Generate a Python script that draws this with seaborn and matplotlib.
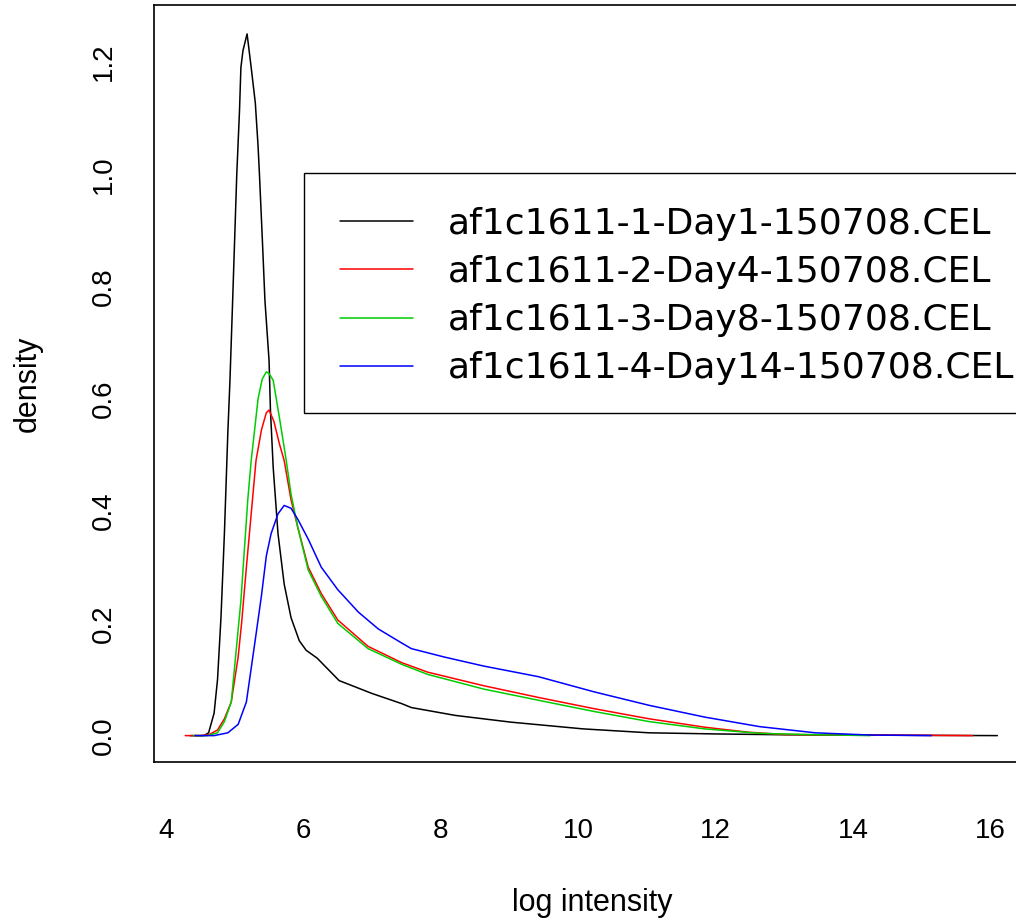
import matplotlib
matplotlib.use("Agg")
import matplotlib.pyplot as plt
from matplotlib.patches import Rectangle
import seaborn as sns
import pandas as pd

# ---- data ----
labels = ["af1c1611-1-Day1-150708.CEL", "af1c1611-2-Day4-150708.CEL",
          "af1c1611-3-Day8-150708.CEL", "af1c1611-4-Day14-150708.CEL"]
colors = ["#000000", "#FF0000", "#00CD00", "#0000FF"]

day1_x = [4.35, 4.55, 4.62, 4.70, 4.75, 4.80, 4.85, 4.90, 4.93, 4.97, 5.03, 5.07, 5.09, 5.12,
          5.18, 5.24, 5.30, 5.34, 5.36, 5.40, 5.44, 5.50, 5.52, 5.56, 5.63, 5.72, 5.82, 5.94,
          6.04, 6.20, 6.52, 7.00, 7.43, 7.57, 8.21, 9.02, 10.07, 11.03, 12.0, 13.0, 14.0, 15.0, 16.1]
day1_y = [0.0, 0.0, 0.005, 0.04, 0.10, 0.21, 0.36, 0.54, 0.63, 0.775, 1.0, 1.114, 1.19, 1.22,
          1.25, 1.19, 1.127, 1.05, 1.0, 0.89, 0.775, 0.668, 0.58, 0.478, 0.36, 0.27, 0.21, 0.169,
          0.152, 0.138, 0.098, 0.075, 0.057, 0.050, 0.036, 0.024, 0.012, 0.005, 0.003, 0.0015,
          0.001, 0.0005, 0.0]

day4_x = [4.28, 4.50, 4.63, 4.75, 4.85, 4.95, 5.05, 5.10, 5.17, 5.24, 5.31, 5.39, 5.46, 5.50,
          5.57, 5.65, 5.72, 5.82, 5.92, 6.07, 6.26, 6.50, 6.94, 7.43, 7.81, 8.62, 9.42, 10.23,
          11.03, 11.84, 12.48, 13.0, 14.0, 15.0, 15.74]
day4_y = [0.0, 0.0, 0.002, 0.01, 0.03, 0.06, 0.14, 0.20, 0.30, 0.395, 0.49, 0.545, 0.575, 0.58,
          0.56, 0.52, 0.49, 0.42, 0.37, 0.30, 0.253, 0.206, 0.159, 0.13, 0.113, 0.089, 0.068,
          0.048, 0.030, 0.015, 0.006, 0.002, 0.001, 0.0005, 0.0]

day8_x = [4.40, 4.60, 4.75, 4.85, 4.95, 5.02, 5.09, 5.14, 5.19, 5.24, 5.34, 5.40, 5.46, 5.50,
          5.56, 5.65, 5.75, 5.82, 5.92, 6.07, 6.26, 6.50, 6.94, 7.43, 7.81, 8.62, 9.42, 10.23,
          11.03, 11.84, 12.65, 13.3, 14.25]
day8_y = [0.0, 0.0, 0.005, 0.025, 0.06, 0.15, 0.24, 0.33, 0.42, 0.49, 0.60, 0.635, 0.648, 0.645,
          0.633, 0.567, 0.49, 0.43, 0.37, 0.295, 0.248, 0.20, 0.155, 0.127, 0.109, 0.083, 0.063,
          0.043, 0.025, 0.012, 0.004, 0.002, 0.0]

day14_x = [4.42, 4.70, 4.90, 5.05, 5.17, 5.24, 5.31, 5.39, 5.46, 5.53, 5.63, 5.72, 5.82, 5.92,
           6.07, 6.26, 6.50, 6.80, 7.09, 7.43, 7.57, 8.05, 8.62, 9.42, 10.23, 11.03, 11.84,
           12.64, 13.45, 14.25, 15.14]
day14_y = [0.0, 0.0, 0.005, 0.02, 0.06, 0.12, 0.18, 0.25, 0.32, 0.36, 0.395, 0.41, 0.405, 0.385,
           0.35, 0.30, 0.26, 0.22, 0.19, 0.165, 0.155, 0.14, 0.124, 0.105, 0.078, 0.054, 0.033,
           0.016, 0.005, 0.001, 0.0]

x_ticks = [4, 6, 8, 10, 12, 14, 16]
y_ticks = [0.0, 0.2, 0.4, 0.6, 0.8, 1.0, 1.2]
y_tick_labels = ["0.0", "0.2", "0.4", "0.6", "0.8", "1.0", "1.2"]

series_x = [day1_x, day4_x, day8_x, day14_x]
series_y = [day1_y, day4_y, day8_y, day14_y]

rows = []
for lab, xs, ys in zip(labels, series_x, series_y):
    for i, (xv, yv) in enumerate(zip(xs, ys)):
        rows.append({"sample": lab, "x": xv, "y": yv, "order": i})
df = pd.DataFrame(rows)

# ---- style ----
sns.set_style("white")
plt.rcParams["font.family"] = ["Liberation Sans", "DejaVu Sans"]
plt.rcParams["text.color"] = "black"
plt.rcParams["axes.labelcolor"] = "black"
plt.rcParams["xtick.color"] = "black"
plt.rcParams["ytick.color"] = "black"

fig = plt.figure(figsize=(10.16, 9.22), dpi=100)
W, H = 1016.0, 922.0
ax = fig.add_axes([153.5 / W, (H - 762) / H, (1031 - 153.5) / W, (762 - 5.5) / H])

sns.lineplot(data=df, x="x", y="y", hue="sample", hue_order=labels,
             palette=dict(zip(labels, colors)), estimator=None, sort=False,
             units="sample", linewidth=1.1, legend=False, ax=ax)

ax.set_xlim(3.818, 16.59)
ax.set_ylim(-0.047, 1.3006)
ax.set_xticks(x_ticks)
ax.set_xticklabels([str(t) for t in x_ticks])
ax.set_yticks(y_ticks)
ax.set_yticklabels(y_tick_labels)

for s in ax.spines.values():
    s.set_visible(True)
    s.set_color("black")
    s.set_linewidth(1.2)

ax.tick_params(axis="both", direction="out", length=12, width=1.0, color="black",
               labelsize=20, labelcolor="black")
ax.tick_params(axis="x", pad=28)
ax.tick_params(axis="y", pad=14.5, labelrotation=90)
for t in ax.get_yticklabels():
    t.set_va("center")

ax.set_xlabel("log intensity", fontsize=22)
ax.set_ylabel("density", fontsize=22)
ax.xaxis.set_label_coords(0.5, -0.167)
ax.yaxis.set_label_coords(-0.126, 0.5)

# legend frame (R style, extends past the right edge)
frame = Rectangle((304 / W, (H - 413) / H), (1045 - 304) / W, (413 - 173) / H,
                  transform=fig.transFigure, facecolor="white", edgecolor="black",
                  linewidth=1.0, zorder=3, clip_on=False)
ax.add_patch(frame)

handles = ax.get_lines()[:4]
leg = ax.legend(handles, labels, loc="upper left",
                bbox_to_anchor=(340 / W, (H - 207) / H), bbox_transform=fig.transFigure,
                frameon=False, borderpad=0, borderaxespad=0,
                prop={"family": "DejaVu Sans", "size": 26},
                handlelength=2.02, handletextpad=0.97, labelspacing=0.39)
leg.set_zorder(5)
for h in leg.get_lines():
    h.set_linewidth(1.1)
for t in leg.get_texts():
    t.set_color("black")

fig.savefig("out.png", dpi=100)
